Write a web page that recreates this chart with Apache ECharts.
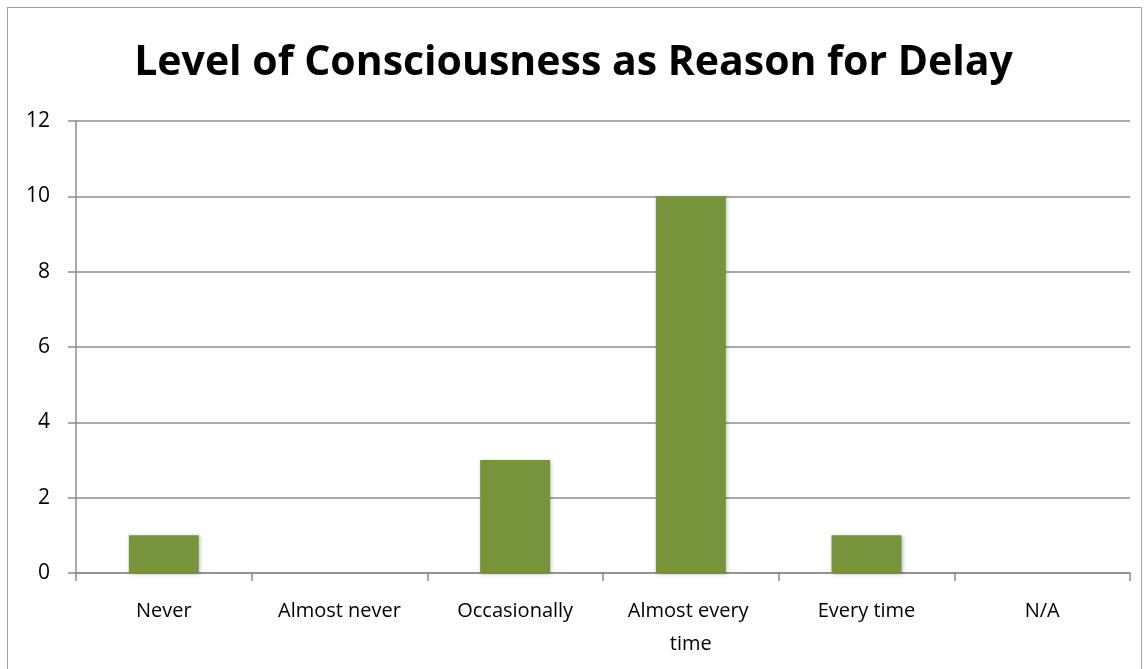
<!DOCTYPE html>
<html><head><meta charset="utf-8">
<script src="https://cdn.jsdelivr.net/npm/echarts@6/dist/echarts.min.js"></script>
<style>html,body{margin:0;padding:0;background:#fff;}#c{width:1147px;height:669px;}
#frame{position:absolute;left:7px;top:7px;width:1133px;height:680px;border:1px solid #a0a0a0;pointer-events:none;}</style>
</head><body><div id="c"></div><div id="frame"></div>
<script>
const title = 'Level of Consciousness as Reason for Delay';
const categories = ['Never','Almost never','Occasionally','Almost every time','Every time','N/A'];
const values = [1,0,3,10,1,0];
const yTicks = {min:0,max:12,interval:2};
const chart = echarts.init(document.getElementById('c'));
chart.setOption({
  animation:false,
  title:{text:title,left:'center',top:38,textStyle:{fontFamily:'Open Sans',fontWeight:'bold',fontSize:41,color:'#000'}},
  grid:{left:76,right:17,top:121,bottom:96},
  xAxis:{type:'category',data:categories,
    axisLine:{lineStyle:{color:'#8c8c8c',width:1.5}},
    axisTick:{show:true,interval:0,length:8,lineStyle:{color:'#8c8c8c',width:1.5}},
    axisLabel:{interval:0,color:'#000',fontFamily:'Open Sans',fontSize:20,margin:22,width:160,overflow:'break',lineHeight:33}},
  yAxis:{type:'value',min:yTicks.min,max:yTicks.max,interval:yTicks.interval,
    axisLine:{show:true,lineStyle:{color:'#8c8c8c',width:1.5}},
    axisTick:{show:true,inside:false,length:8,lineStyle:{color:'#8c8c8c',width:1.5}},
    splitLine:{lineStyle:{color:'#8c8c8c',width:1.5}},
    axisLabel:{color:'#000',fontFamily:'Open Sans',fontSize:21,margin:26}},
  series:[{type:'bar',data:values,barWidth:70,
    itemStyle:{color:'#77933C',shadowColor:'rgba(0,0,0,0.25)',shadowBlur:4,shadowOffsetX:1,shadowOffsetY:1}}]
});
</script></body></html>
